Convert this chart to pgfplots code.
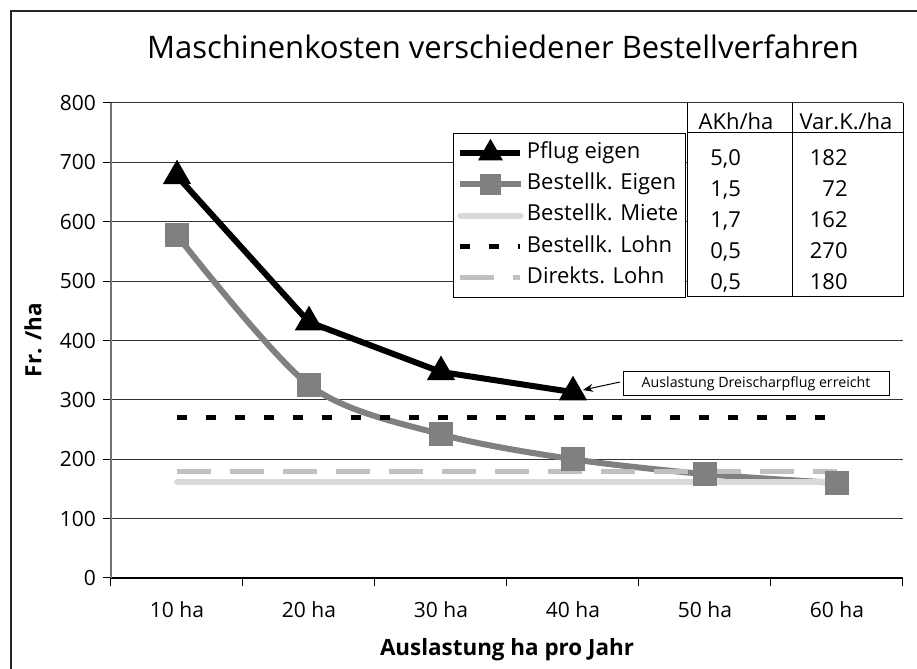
\documentclass[border=0pt]{standalone}
\usepackage{pgfplots}
\pgfplotsset{compat=1.18}
\usepackage{fontspec}
\setmainfont{Open Sans}
\usetikzlibrary{arrows.meta}
\definecolor{eigen}{HTML}{808080}
\definecolor{miete}{HTML}{D9D9D9}
\definecolor{direkt}{HTML}{C0C0C0}
\begin{document}
\begin{tikzpicture}
\path[use as bounding box] (0,0) rectangle (458.5pt,334.5pt);
\begin{axis}[
  at={(55.5pt,45.5pt)}, anchor=south west,
  scale only axis, width=396pt, height=237.5pt,
  xmin=0.5, xmax=6.5, ymin=0, ymax=800,
  axis x line*=bottom, axis y line*=left,
  x axis line style={-, black, line width=0.6pt},
  y axis line style={-, black!55, line width=0.6pt},
  xtick={0.5,1.5,...,6.5}, x tick label as interval,
  xticklabels={10 ha,20 ha,30 ha,40 ha,50 ha,60 ha},
  ytick={0,100,...,800},
  tick align=outside, major tick length=4pt,
  tick style={black, line width=0.5pt},
  ymajorgrids, grid style={black!80, line width=0.5pt},
  /pgf/number format/assume math mode=true,
  tick label style={font=\fontsize{10.5}{12}\selectfont},
  xticklabel style={yshift=-4pt},
  xlabel={\bfseries Auslastung ha pro Jahr},
  ylabel={\bfseries Fr. /ha},
  label style={font=\fontsize{11.2}{13}\selectfont},
  xlabel style={at={(axis description cs:0.5,-0.1516)}, anchor=center},
  ylabel style={at={(axis description cs:-0.0985,0.501)}, anchor=center, rotate=0},
  legend style={at={(axis description cs:0.4318,0.9368)}, anchor=north west,
    draw=black, line width=0.5pt, fill=white,
    font=\fontsize{11}{13}\selectfont, inner sep=2pt, row sep=0pt,
    nodes={inner xsep=1.75pt, inner ysep=2.5pt, text height=8pt, text depth=2.6pt}},
  legend cell align=left,
  legend image code/.code={\draw[mark repeat=2,mark phase=2,#1, mark options={solid, scale=0.8}] plot coordinates {(0pt,0pt) (15pt,0pt) (30pt,0pt)};},
]
\addplot[black, line width=3pt, mark=triangle*, mark size=5.2pt, mark options={solid}]
  coordinates {(1,677) (2,431) (3,347) (4,313)};
\addlegendentry{Pflug eigen}
\addplot[eigen, line width=3pt, smooth, tension=0.5, mark=square*, mark size=4.5pt, mark options={solid}]
  coordinates {(1,577) (2,325) (3,242) (4,200) (5,175) (6,160)};
\addlegendentry{Bestellk. Eigen}
\addplot[miete, line width=3pt, line cap=round]
  coordinates {(1,162) (2,162) (3,162) (4,162) (5,162) (6,162)};
\addlegendentry{Bestellk. Miete}
\addplot[black, line width=2.3pt, dash pattern=on 5pt off 9.5pt]
  coordinates {(1,270) (2,270) (3,270) (4,270) (5,270) (6,270)};
\addlegendentry{Bestellk. Lohn}
\addplot[direkt, line width=2.5pt, dash pattern=on 17pt off 9.5pt]
  coordinates {(1,180) (2,180) (3,180) (4,180) (5,180) (6,180)};
\addlegendentry{Direkts. Lohn}
\end{axis}
\begin{scope}[x=0.5pt, y=-0.5pt, shift={(0pt,334.5pt)}]
  % outer frame (left and top only visible)
  \draw[line width=0.7pt, black!85] (11,669) -- (11,11) -- (917,11);
  % title
  \node[font=\fontsize{15.5}{18}\selectfont] at (503,47) {Maschinenkosten verschiedener Bestellverfahren};
  % table
  \fill[white] (687.5,103.5) rectangle (903,296.5);
  \draw[line width=0.5pt] (687,103) -- (687,297) (792,103) -- (792,297) (903,103) -- (903,297)
     (687,133) -- (903,133) (687,297) -- (903,297);
  \begin{scope}[every node/.style={font=\fontsize{11}{13}\selectfont, inner sep=0pt}]
    \node[anchor=base] at (736,130) {AKh/ha};
    \node[anchor=base] at (846,130) {Var.K./ha};
    \node[anchor=base west] at (710,166) {5,0};
    \node[anchor=base west] at (710,197) {1,5};
    \node[anchor=base west] at (710,228) {1,7};
    \node[anchor=base west] at (710,259) {0,5};
    \node[anchor=base west] at (710,290) {0,5};
    \node[anchor=base east] at (848,166) {182};
    \node[anchor=base east] at (848,197) {72};
    \node[anchor=base east] at (848,228) {162};
    \node[anchor=base east] at (848,259) {270};
    \node[anchor=base east] at (848,290) {180};
  \end{scope}
  % annotation
  \draw[line width=0.5pt, fill=white] (623,372) rectangle (889,396);
  \node[font=\fontsize{7.1}{8}\selectfont, inner sep=0pt] at (756,384) {Auslastung Dreischarpflug erreicht};
  \draw[line width=0.5pt, -{Stealth[length=5pt,width=4pt]}] (620,382) -- (583,390);
\end{scope}
\end{tikzpicture}
\end{document}
